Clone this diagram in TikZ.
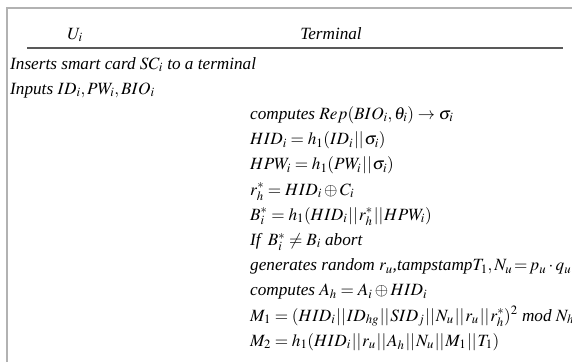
\documentclass[tikz,border=0pt]{standalone}
\usepackage{amsmath,amssymb}
\usepackage{mathptmx}
\usepackage[no-math]{fontspec}
\setmainfont{Liberation Serif}
\usepackage{tikz}
\usetikzlibrary{positioning}

\newcommand{\cat}{\mskip-1.5mu\mathbin{||}\mskip-1.5mu}

\begin{document}
\begin{tikzpicture}[x=1pt,y=-1pt,
  every node/.style={inner sep=0pt,anchor=base west,font=\fontsize{17.2}{20}\selectfont\itshape},
  row/.style={yshift=-25.2pt}]
  \useasboundingbox (0,0) rectangle (572,362);
  % frame and header rule
  \draw[black!30,line width=1.6pt] (7,362) -- (7,8) -- (572,8);
  \coordinate (ruleL) at (27,48);
  \coordinate (ruleR) at (563,48);
  \draw[black!65,line width=1.5pt] (ruleL) -- (ruleR);
  \node[anchor=base] (hdrU) at (75,39) {$U_i$};
  \node[anchor=base] (hdrT) at (331,39) {Terminal};
  % user side
  \node (u1) at (10,69) {Inserts smart card $SC_i$ to a terminal};
  \node (u2) at ([row]u1.base west) {Inputs $ID_i,PW_i,BIO_i$};
  % terminal side
  \node (t1) at (250,119.4) {computes $Rep(BIO_i,\theta_i)\rightarrow\sigma_i$};
  \node (t2) at ([row]t1.base west) {$HID_i=h_1(ID_i\cat\sigma_i)$};
  \node (t3) at ([row]t2.base west) {$HPW_i=h_1(PW_i\cat\sigma_i)$};
  \node (t4) at ([row]t3.base west) {$r_h^*=HID_i\oplus C_i$};
  \node (t5) at ([row]t4.base west) {$B_i^*=h_1(HID_i\cat r_h^*\cat HPW_i)$};
  \node (t6) at ([row]t5.base west) {If\, $B_i^*\neq B_i$ abort};
  \node (t7) at ([row]t6.base west) {generates random $r_u$,tampstamp$T_1,N_u\!=\!p_u\cdot q_u$};
  \node (t8) at ([row]t7.base west) {computes $A_h=A_i\oplus HID_i$};
  \node (t9) at ([row]t8.base west) {$M_1=(HID_i\cat ID_{hg}\cat SID_j\cat N_u\cat r_u\cat r_h^*)^2$ mod $N_h$};
  \node (t10) at ([row]t9.base west) {$M_2=h_1(HID_i\cat r_u\cat A_h\cat N_u\cat M_1\cat T_1)$};
\end{tikzpicture}
\end{document}
